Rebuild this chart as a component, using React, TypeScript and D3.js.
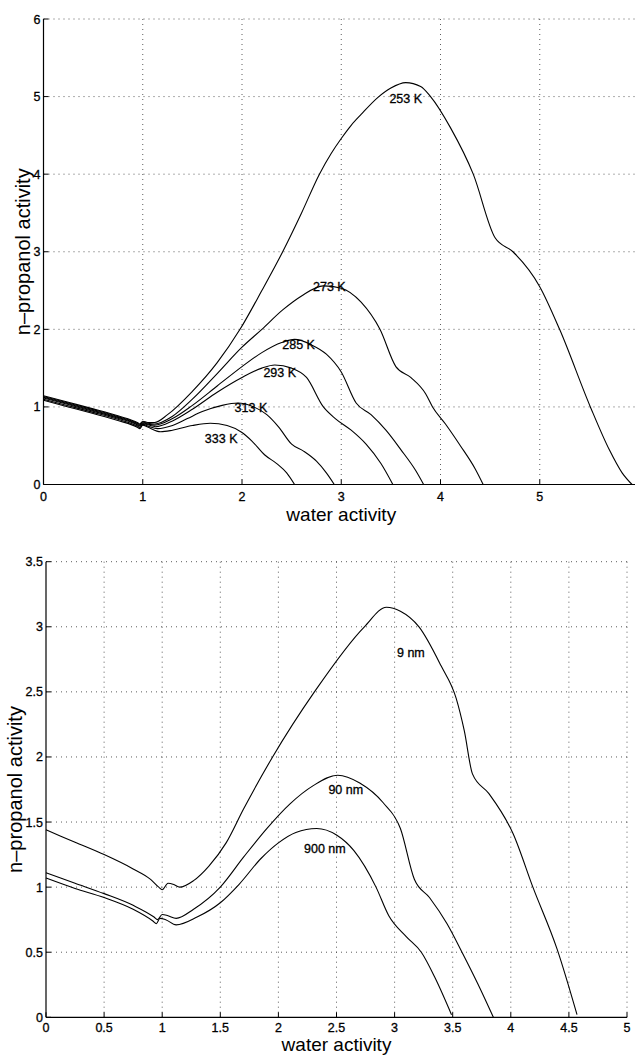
import React from 'react';
import * as d3 from 'd3';

// ---------- upper panel: temperature dependence ----------
const tempTicksX = [0, 1, 2, 3, 4, 5, 6];
const tempTicksY = [0, 1, 2, 3, 4, 5, 6];

const t253: [number, number][] = [
  [0, 1.145], [0.25, 1.06], [0.5, 0.975], [0.75, 0.885], [0.95, 0.795], [0.97, 0.78], [1.0, 0.815], [1.05, 0.8],
  [1.12, 0.8], [1.25, 0.9], [1.5, 1.2], [1.75, 1.57], [1.98, 2.0], [2.2, 2.5], [2.41, 3.0], [2.6, 3.5], [2.78, 4.0],
  [2.9, 4.27], [3.0, 4.46], [3.1, 4.63], [3.2, 4.77], [3.37, 4.99], [3.5, 5.11], [3.65, 5.18], [3.8, 5.13],
  [3.9, 5.0], [4.1, 4.6], [4.33, 4.0], [4.55, 3.18], [4.73, 3.0], [5.0, 2.55], [5.2, 2.0], [5.51, 1.0],
  [5.7, 0.45], [5.83, 0.15], [5.93, 0],
];
const t273: [number, number][] = [
  [0, 1.135], [0.25, 1.05], [0.5, 0.965], [0.75, 0.875], [0.95, 0.785], [0.97, 0.77], [1.0, 0.805], [1.05, 0.79],
  [1.12, 0.78], [1.3, 0.88], [1.5, 1.1], [1.75, 1.43], [2.0, 1.77], [2.2, 2.0], [2.41, 2.25], [2.6, 2.43], [2.82, 2.56],
  [3.0, 2.53], [3.2, 2.35], [3.39, 2.0], [3.55, 1.52], [3.7, 1.38], [3.85, 1.17], [3.92, 1.0], [4.05, 0.78],
  [4.2, 0.5], [4.35, 0.2], [4.43, 0],
];
const t285: [number, number][] = [
  [0, 1.125], [0.25, 1.04], [0.5, 0.955], [0.75, 0.865], [0.95, 0.775], [0.97, 0.76], [1.0, 0.795], [1.05, 0.78],
  [1.12, 0.765], [1.3, 0.85], [1.5, 1.02], [1.75, 1.27], [2.0, 1.52], [2.2, 1.7], [2.4, 1.83], [2.53, 1.87],
  [2.7, 1.8], [2.85, 1.68], [3.0, 1.45], [3.15, 1.05], [3.3, 0.9], [3.45, 0.7], [3.6, 0.45], [3.75, 0.18], [3.83, 0],
];
const t293: [number, number][] = [
  [0, 1.115], [0.25, 1.03], [0.5, 0.945], [0.75, 0.855], [0.95, 0.765], [0.97, 0.75], [1.0, 0.785], [1.05, 0.77],
  [1.13, 0.745], [1.3, 0.82], [1.5, 0.97], [1.75, 1.19], [2.0, 1.38], [2.2, 1.5], [2.33, 1.54], [2.5, 1.5],
  [2.65, 1.38], [2.82, 1.0], [2.94, 0.85], [3.1, 0.7], [3.25, 0.52], [3.4, 0.27], [3.52, 0],
];
const t313: [number, number][] = [
  [0, 1.1], [0.25, 1.015], [0.5, 0.93], [0.75, 0.84], [0.95, 0.75], [0.97, 0.735], [1.0, 0.775], [1.05, 0.755],
  [1.15, 0.72], [1.3, 0.76], [1.45, 0.85], [1.6, 0.94], [1.8, 1.02], [1.96, 1.05], [2.1, 1.01], [2.25, 0.9],
  [2.37, 0.74], [2.5, 0.52], [2.62, 0.43], [2.75, 0.3], [2.85, 0.15], [2.93, 0],
];
const t333: [number, number][] = [
  [0, 1.085], [0.25, 1.0], [0.5, 0.915], [0.75, 0.825], [0.95, 0.735], [0.97, 0.72], [1.0, 0.765], [1.05, 0.74],
  [1.18, 0.68], [1.3, 0.7], [1.5, 0.76], [1.68, 0.79], [1.85, 0.76], [2.0, 0.67], [2.1, 0.56], [2.23, 0.38],
  [2.35, 0.27], [2.45, 0.15], [2.53, 0],
];
const tempNames = ['253 K', '273 K', '285 K', '293 K', '313 K', '333 K'];
const tempLabelAt: [number, number][] = [
  [3.65, 4.98], [2.88, 2.55], [2.57, 1.8], [2.38, 1.44], [2.09, 0.99], [1.79, 0.59],
];

// ---------- lower panel: pore size dependence ----------
const sizeTicksX = [0, 0.5, 1, 1.5, 2, 2.5, 3, 3.5, 4, 4.5, 5];
const sizeTicksY = [0, 0.5, 1, 1.5, 2, 2.5, 3, 3.5];

const nm9: [number, number][] = [
  [0, 1.44], [0.25, 1.345], [0.5, 1.25], [0.75, 1.14], [0.9, 1.06], [0.97, 1.0], [1.0, 0.98], [1.05, 1.03],
  [1.1, 1.02], [1.15, 1.0], [1.27, 1.05], [1.4, 1.16], [1.55, 1.34], [1.7, 1.6], [1.95, 2.0], [2.31, 2.5],
  [2.74, 3.0], [2.93, 3.15], [3.05, 3.12], [3.21, 3.0], [3.4, 2.7], [3.53, 2.45], [3.6, 2.2], [3.67, 1.87],
  [3.81, 1.72], [4.02, 1.41], [4.19, 1.0], [4.4, 0.52], [4.57, 0.02],
];
const nm90: [number, number][] = [
  [0, 1.11], [0.25, 1.03], [0.5, 0.95], [0.75, 0.86], [0.93, 0.77], [0.96, 0.75], [1.0, 0.79], [1.05, 0.78],
  [1.12, 0.76], [1.27, 0.83], [1.5, 1.0], [1.7, 1.23], [1.9, 1.45], [2.1, 1.64], [2.3, 1.78], [2.51, 1.86],
  [2.7, 1.8], [2.9, 1.65], [3.05, 1.45], [3.17, 1.06], [3.3, 0.92], [3.45, 0.72], [3.58, 0.5], [3.72, 0.25],
  [3.85, 0],
];
const nm900: [number, number][] = [
  [0, 1.07], [0.25, 0.99], [0.5, 0.92], [0.75, 0.83], [0.92, 0.74], [0.95, 0.72], [0.98, 0.76], [1.03, 0.75],
  [1.12, 0.71], [1.3, 0.77], [1.5, 0.88], [1.66, 1.02], [1.85, 1.22], [2.0, 1.34], [2.15, 1.42], [2.33, 1.45],
  [2.5, 1.4], [2.65, 1.28], [2.84, 1.0], [2.95, 0.78], [3.1, 0.62], [3.23, 0.5], [3.35, 0.3], [3.49, 0.02],
];
const sizeNames = ['9 nm', '90 nm', '900 nm'];
const sizeLabelAt: [number, number][] = [[3.14, 2.8], [2.58, 1.75], [2.4, 1.3]];

const FONT = '"Liberation Sans", Arial, Helvetica, sans-serif';

type PanelProps = {
  left: number;
  right: number;
  top: number;
  bottom: number;
  xTicks: number[];
  yTicks: number[];
  series: [number, number][][];
  names: string[];
  labelAt: [number, number][];
  xTitleY: number;
  xTickY: number;
  yTitleX: number;
};

function Panel(p: PanelProps) {
  const x = d3.scaleLinear().domain([p.xTicks[0], p.xTicks[p.xTicks.length - 1]]).range([p.left, p.right]);
  const y = d3.scaleLinear().domain([p.yTicks[0], p.yTicks[p.yTicks.length - 1]]).range([p.bottom, p.top]);
  const line = d3
    .line<[number, number]>()
    .x((d) => x(d[0]))
    .y((d) => y(d[1]))
    .curve(d3.curveMonotoneX);
  const grid = { stroke: '#333', strokeWidth: 0.8, strokeDasharray: '1,4' };
  const textStyle = { fill: '#000', stroke: '#000', strokeWidth: 0.3 };
  return (
    <g fontFamily={FONT}>
      {p.xTicks.slice(1).map((t) => (
        <line key={'gx' + t} x1={x(t)} x2={x(t)} y1={p.top} y2={p.bottom} {...grid} />
      ))}
      {p.yTicks.slice(1).map((t) => (
        <line key={'gy' + t} x1={p.left} x2={p.right} y1={y(t)} y2={y(t)} {...grid} />
      ))}
      <line x1={p.left} x2={p.left} y1={p.top} y2={p.bottom} stroke="#000" strokeWidth={1.2} />
      <line x1={p.left} x2={p.right} y1={p.bottom} y2={p.bottom} stroke="#000" strokeWidth={1.2} />
      {p.xTicks.map((t) => (
        <g key={'tx' + t}>
          <line x1={x(t)} x2={x(t)} y1={p.bottom} y2={p.bottom - 5} stroke="#000" strokeWidth={1} />
          <text x={x(t)} y={p.xTickY} fontSize={12.5} textAnchor="middle" {...textStyle}>
            {String(t)}
          </text>
        </g>
      ))}
      {p.yTicks.map((t) => (
        <g key={'ty' + t}>
          <line x1={p.left} x2={p.left + 5} y1={y(t)} y2={y(t)} stroke="#000" strokeWidth={1} />
          <text x={p.left - 3} y={y(t) + 4.5} fontSize={12.5} textAnchor="end" {...textStyle}>
            {String(t)}
          </text>
        </g>
      ))}
      {p.series.map((s, i) => (
        <path key={'s' + i} d={line(s) || ''} fill="none" stroke="#000" strokeWidth={1.1} />
      ))}
      {p.names.map((n, i) => (
        <text
          key={'n' + i}
          x={x(p.labelAt[i][0])}
          y={y(p.labelAt[i][1]) + 4.5}
          fontSize={12.5}
          textAnchor="middle"
          {...textStyle}
        >
          {n}
        </text>
      ))}
      <text x={(p.left + p.right) / 2} y={p.xTitleY} fontSize={19} textAnchor="middle" fill="#000">
        water activity
      </text>
      <text
        transform={`translate(${p.yTitleX},${(p.top + p.bottom) / 2}) rotate(-90)`}
        fontSize={20}
        textAnchor="middle"
        fill="#000"
      >
        n–propanol activity
      </text>
    </g>
  );
}

export default function App() {
  return (
    <svg
      width={635}
      height={1057}
      style={{ position: 'absolute', left: 0, top: 0, background: '#fff', display: 'block' }}
    >
      <rect width={635} height={1057} fill="#fff" />
      <Panel
        left={43.5}
        right={639}
        top={19}
        bottom={484.5}
        xTicks={tempTicksX}
        yTicks={tempTicksY}
        series={[t253, t273, t285, t293, t313, t333]}
        names={tempNames}
        labelAt={tempLabelAt}
        xTickY={501}
        xTitleY={521}
        yTitleX={30}
      />
      <Panel
        left={46}
        right={627}
        top={561.7}
        bottom={1017.3}
        xTicks={sizeTicksX}
        yTicks={sizeTicksY}
        series={[nm9, nm90, nm900]}
        names={sizeNames}
        labelAt={sizeLabelAt}
        xTickY={1032}
        xTitleY={1051}
        yTitleX={22}
      />
    </svg>
  );
}
